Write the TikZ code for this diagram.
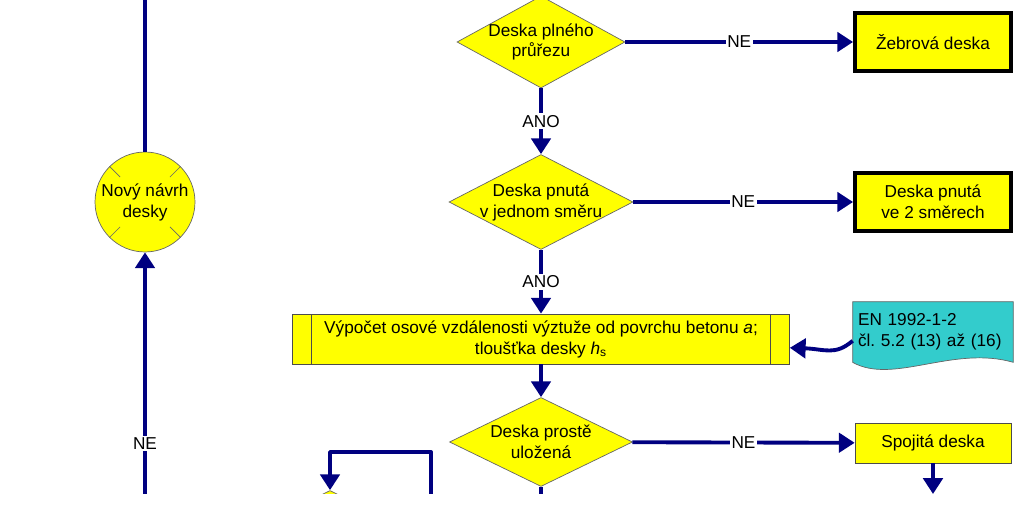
\documentclass[tikz,border=0pt]{standalone}
\usepackage{fontspec}
\setmainfont{Liberation Sans}
\usepackage{xcolor}
\usetikzlibrary{arrows.meta, shapes.geometric, calc, backgrounds}
\definecolor{fyellow}{RGB}{255,255,0}
\definecolor{fblue}{RGB}{0,0,128}
\definecolor{fcyan}{RGB}{51,204,204}

\begin{document}
\begin{tikzpicture}[x=0.02cm, y=-0.02cm,
  font=\fontsize{9.8}{11.9}\selectfont,
  decision/.style={diamond, aspect=1.9, draw=black!60, fill=fyellow, inner sep=-4pt, align=center},
  endbox/.style={draw=black, line width=2.2pt, fill=fyellow, minimum width=3.12cm,
                 minimum height=1.16cm, align=center},
  plainbox/.style={draw=black!70, fill=fyellow, minimum width=3.12cm, minimum height=0.8cm},
  proc/.style={draw=black!70, fill=fyellow, minimum width=9.94cm, minimum height=1cm, align=center,
    path picture={\draw[black!70]
      ([xshift=0.38cm]path picture bounding box.north west) -- ([xshift=0.38cm]path picture bounding box.south west)
      ([xshift=-0.38cm]path picture bounding box.north east) -- ([xshift=-0.38cm]path picture bounding box.south east);}},
  doc/.style={minimum width=3.2cm, minimum height=1.2cm, text width=3.0cm, align=left, inner sep=2pt},
  connector/.style={circle, draw=black!60, fill=fyellow, minimum size=2cm, inner sep=0pt, align=center},
  wire/.style={line width=2.2pt, fblue, line join=round},
  arrow/.style={wire, -{Triangle[length=9pt,width=11pt]}},
  lbl/.style={fill=white, text=black, inner sep=1pt}
]
  \useasboundingbox (0,0) rectangle (1024,509);
  \clip (0,0) rectangle (1024,494);

  % left column
  \node[connector] (new) at (145,202) {Nový návrh\\desky};
  \foreach \a in {45,135,225,315}
    \draw[black!60] (new.\a) -- ($(new.center)!0.7!(new.\a)$);
  \coordinate (top) at (145,0);
  \coordinate (bot) at (145,494);

  % main column
  \node[decision, minimum width=3.36cm, minimum height=1.84cm] (full) at (541,42) {Deska plného\\průřezu};
  \node[endbox] (ribbed) at (933,42) {Žebrová deska};
  \node[decision, minimum width=3.68cm, minimum height=1.9cm] (oneway) at (541,202) {Deska pnutá\\v jednom směru};
  \node[endbox] (twoway) at (933,202) {Deska pnutá\\ve 2 směrech};
  \node[proc] (axis) at (541,339) {Výpočet osové vzdálenosti výztuže od povrchu betonu \textit{a};\\
    tloušťka desky \textit{h}\textsubscript{s}};
  \node[doc] (norm) at (933,332) {EN 1992-1-2\\čl.\ 5.2 (13) až (16)};
  \node[decision, minimum width=3.66cm, minimum height=1.78cm] (simple) at (541,442) {Deska prostě\\uložená};
  \node[plainbox] (cont) at (933,443) {Spojitá deska};
  \node[decision, minimum width=3.66cm, minimum height=1.78cm] (next) at (330,535) {};
  \coordinate (down) at (541,494);
  \coordinate (contend) at (933,494);
  \coordinate (loop) at (431,494);

  \begin{scope}[on background layer]
    \filldraw[fill=fcyan, draw=black!60] (norm.north west) -- (norm.north east) -- (norm.south east)
      .. controls (953,345) and (893,385) .. (norm.south west) -- cycle;
  \end{scope}

  \draw[wire] (new) -- (top);
  \draw[arrow] (bot) -- node[lbl, pos=0.21] {NE} (new);

  \draw[arrow] (full) -- node[lbl] {NE} (ribbed);
  \draw[arrow] (full) -- node[lbl] {ANO} (oneway);
  \draw[arrow] (oneway) -- node[lbl] {NE} (twoway);
  \draw[arrow] (oneway) -- node[lbl] {ANO} (axis);
  \draw[arrow] ([yshift=-5pt]norm.west) .. controls (835,356) and (825,349) .. ([yshift=-5pt]axis.east);
  \draw[arrow] (axis) -- (simple);
  \draw[arrow] (simple) -- node[lbl] {NE} (cont);
  \draw[wire] (simple) -- (down);
  \draw[arrow] (cont) -- (contend);
  \draw[arrow] (loop) -- (431,452) -| (next.north);
\end{tikzpicture}
\end{document}
